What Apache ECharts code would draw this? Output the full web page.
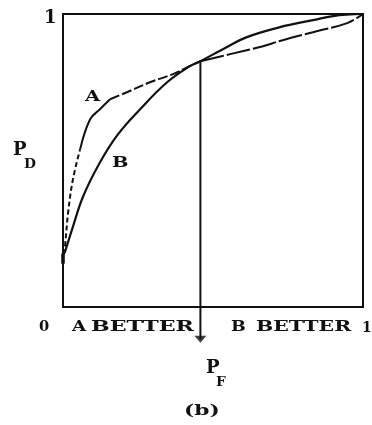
<!DOCTYPE html>
<html>
<head>
<meta charset="utf-8">
<script src="https://cdn.jsdelivr.net/npm/echarts@6/dist/echarts.min.js"></script>
<style>
  html, body { margin: 0; padding: 0; background: #fff; }
  #chart { width: 372px; height: 425px; }
</style>
</head>
<body>
<div id="chart"></div>
<script>
// ROC curves of two detectors A and B (probability of detection vs. false alarm)
const bPF = [0.002, 0.007, 0.03, 0.067, 0.123, 0.183, 0.257, 0.347, 0.423, 0.458, 0.533, 0.613, 0.723, 0.833, 0.9, 1.0];
const bPD = [0.18, 0.19, 0.264, 0.377, 0.493, 0.589, 0.675, 0.767, 0.822, 0.839, 0.88, 0.921, 0.955, 0.979, 0.993, 1.0];

const aPF = [0.002, 0.007, 0.017, 0.033, 0.057, 0.09, 0.123, 0.157, 0.213, 0.29, 0.367, 0.413, 0.458, 0.557, 0.667, 0.723, 0.833, 0.947, 1.0];
const aPD = [0.18, 0.212, 0.322, 0.435, 0.538, 0.64, 0.675, 0.709, 0.733, 0.767, 0.795, 0.818, 0.839, 0.863, 0.89, 0.908, 0.938, 0.969, 1.0];

// crossover operating point of the two curves
const crossPF = 0.458;
const crossPD = 0.839;
const arrowEndPD = -0.11;

const pairs = (xs, ys, from, to) => xs.slice(from, to + 1).map((x, i) => [x, ys[from + i]]);

const ink = '#111';
const font = '"DejaVu Serif", "Liberation Serif", serif';

function curve(data, width, type) {
  return {
    type: 'line', data, smooth: 0.4, symbol: 'none', clip: false,
    lineStyle: { color: ink, width, type }, z: 3
  };
}

function label(text, x, y, size, sx) {
  return {
    type: 'text', x, y, scaleX: sx || 1,
    style: { text, fill: ink, font: 'bold ' + size + 'px ' + font, textVerticalAlign: 'middle' }
  };
}

const chart = echarts.init(document.getElementById('chart'), null, { renderer: 'canvas' });
chart.setOption({
  animation: false,
  backgroundColor: '#fff',
  grid: { left: 63, top: 14, right: 9, bottom: 118, show: true, borderColor: ink, borderWidth: 2, backgroundColor: 'transparent' },
  xAxis: { type: 'value', min: 0, max: 1, axisLine: { show: false }, axisTick: { show: false }, axisLabel: { show: false }, splitLine: { show: false } },
  yAxis: { type: 'value', min: 0, max: 1, axisLine: { show: false }, axisTick: { show: false }, axisLabel: { show: false }, splitLine: { show: false } },
  series: [
    curve(pairs(bPF, bPD, 0, bPF.length - 1), 2.2, 'solid'),
    curve(pairs(aPF, aPD, 0, 4), 2, [5, 3]),
    curve(pairs(aPF, aPD, 4, 7), 2, 'solid'),
    curve(pairs(aPF, aPD, 7, 12), 2, [10, 3]),
    curve(pairs(aPF, aPD, 12, aPF.length - 1), 2, [24, 3]),
    {
      type: 'line', data: [[crossPF, crossPD], [crossPF, arrowEndPD]], symbol: 'none', clip: false,
      lineStyle: { color: ink, width: 2 }, z: 4
    },
    {
      type: 'scatter', data: [[crossPF, arrowEndPD]], symbol: 'triangle', symbolRotate: 180,
      symbolSize: [12, 7], clip: false,
      itemStyle: { color: ink }, z: 4
    },
    {
      type: 'scatter', data: [[0, 0.165]], symbol: 'rect', symbolSize: [4, 10], clip: false,
      itemStyle: { color: ink }, z: 4
    }
  ],
  graphic: [
    label('1', 44, 18, 19, 0.95),
    label('P', 13, 150, 19, 0.95),
    label('D', 24, 165, 12, 1.15),
    label('0', 39, 327, 14, 1.05),
    label('A', 72, 327, 14, 1.3),
    label('BETTER', 91, 327, 14, 1.58),
    label('B', 231, 327, 14, 1.25),
    label('BETTER', 256, 327, 14, 1.46),
    label('1', 362, 328, 14, 1.0),
    label('P', 206, 368, 19, 0.95),
    label('F', 216, 383, 12, 1.15),
    label('A', 85, 97, 15, 1.3),
    label('B', 112, 163, 15, 1.3),
    label('(b)', 184, 411, 15, 1.45)
  ]
});
</script>
</body>
</html>
